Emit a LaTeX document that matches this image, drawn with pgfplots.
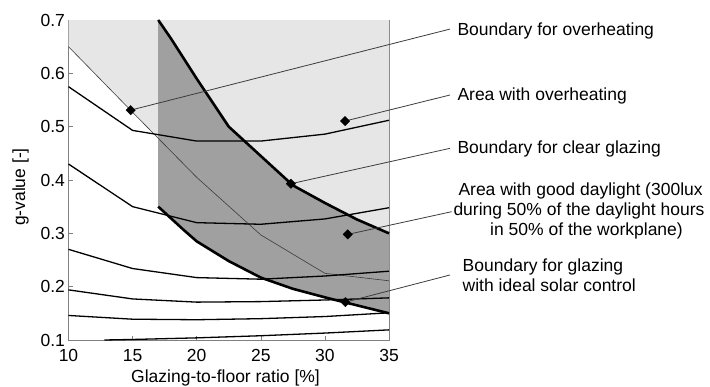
\documentclass[border=0pt]{standalone}
\usepackage{fontspec}
\setmainfont{Liberation Sans}
\usepackage{pgfplots}
\pgfplotsset{compat=1.18}
\definecolor{lightfill}{RGB}{230,230,230}
\definecolor{darkfill}{RGB}{160,160,160}
\definecolor{axgray}{RGB}{128,128,128}
\definecolor{annot}{RGB}{60,60,60}
\begin{document}
\begin{tikzpicture}[font=\fontsize{17.5bp}{21bp}\selectfont]
\useasboundingbox (0,0) rectangle (710bp,387bp);
\begin{axis}[
  at={(68.5bp,47bp)}, anchor=south west,
  scale only axis, width=320.5bp, height=320bp,
  xmin=10, xmax=35, ymin=0.1, ymax=0.7,
  xtick={10,15,20,25,30,35},
  ytick={0.1,0.2,0.3,0.4,0.5,0.6,0.7},
  yticklabel style={/pgf/number format/.cd, fixed, fixed zerofill, precision=1},
  xticklabel style={yshift=-6bp},
  /pgf/number format/assume math mode=true,
  tick label style={font=\fontsize{17.5bp}{21bp}\selectfont},
  tick align=inside, major tick length=4bp,
  tick style={axgray, line width=0.6bp},
  axis line style={axgray, line width=0.8bp},
  clip=false,
  xlabel={Glazing-to-floor ratio [\%]},
  ylabel={g-value [-]},
  xlabel style={at={(axis description cs:0.49,-0.134)}, anchor=base},
  ylabel style={at={(axis description cs:-0.1357,0.478)}, anchor=base},
]
% area with overheating (above overheating boundary)
\addplot[draw=none, fill=lightfill] coordinates {
 (10,0.7) (10,0.65) (15,0.527) (20,0.405) (25,0.297) (30,0.225) (35,0.211) (35,0.7)} -- cycle;
% area with good daylight
\addplot[draw=none, fill=darkfill] coordinates {
 (17,0.35) (17,0.70) (18,0.665) (20,0.59) (22.5,0.5) (25,0.445) (27.5,0.39) (30,0.357) (32.5,0.326) (35,0.30)
 (35,0.15) (30,0.18) (27.5,0.196) (25,0.217) (22.5,0.248) (20,0.285) (19,0.306) (17,0.35)} -- cycle;
% boundary for overheating (thin)
\addplot[color=annot, line width=0.6bp] coordinates {
 (10,0.65) (15,0.527) (20,0.405) (25,0.297) (30,0.225) (35,0.211)};
% contour lines
\addplot[black, line width=1.3bp] coordinates {(10,0.575) (15,0.493) (20,0.473) (25,0.473) (30,0.486) (32.5,0.499) (35,0.512)};
\addplot[black, line width=1.3bp] coordinates {(10,0.43) (15,0.35) (20,0.32) (25,0.317) (30,0.327) (35,0.348)};
\addplot[black, line width=1.3bp] coordinates {(10,0.270) (15,0.234) (20,0.217) (25,0.214) (30,0.220) (35,0.229)};
\addplot[black, line width=1.3bp] coordinates {(10,0.194) (15,0.177) (20,0.171) (25,0.172) (30,0.175) (35,0.179)};
\addplot[black, line width=1.3bp] coordinates {(10,0.146) (15,0.139) (20,0.138) (25,0.140) (30,0.144) (35,0.151)};
\addplot[black, line width=1.3bp] coordinates {(12.8,0.1) (15,0.101) (20,0.104) (25,0.108) (30,0.113) (35,0.119)};
% boundary for clear glazing (thick)
\addplot[black, line width=2.6bp] coordinates {(17,0.70) (18,0.665) (20,0.59) (22.5,0.5) (25,0.445) (27.5,0.39) (30,0.357) (32.5,0.326) (35,0.30)};
% boundary for ideal solar control (thick)
\addplot[black, line width=2.6bp] coordinates {(17,0.35) (19,0.306) (20,0.285) (22.5,0.248) (25,0.217) (27.5,0.196) (30,0.18) (35,0.15)};
% annotation leader lines
\addplot[annot, line width=0.8bp] coordinates {(14.85,0.531) (39.76,0.683)};
\addplot[annot, line width=0.8bp] coordinates {(31.57,0.5105) (39.76,0.5594)};
\addplot[annot, line width=0.8bp] coordinates {(27.35,0.393) (39.76,0.4594)};
\addplot[annot, line width=0.8bp] coordinates {(31.78,0.298) (39.89,0.3406)};
\addplot[annot, line width=0.8bp] coordinates {(31.6,0.171) (39.76,0.2219)};
% markers
\addplot[only marks, mark=square*, mark size=3.3bp, mark options={black, rotate=45}] coordinates {
 (14.85,0.531) (31.57,0.5105) (27.35,0.393) (31.78,0.298) (31.6,0.171)};
\end{axis}
\node[anchor=base west, inner sep=0pt] at (457.3bp,351bp) {Boundary for overheating};
\node[anchor=base west, inner sep=0pt] at (457.3bp,286.3bp) {Area with overheating};
\node[anchor=base west, inner sep=0pt] at (457.3bp,233bp) {Boundary for clear glazing};
\node[anchor=base west, inner sep=0pt] at (458.3bp,191bp) {Area with good daylight (300lux};
\node[anchor=base west, inner sep=0pt] at (453.3bp,171bp) {during 50\% of the daylight hours};
\node[anchor=base west, inner sep=0pt] at (490bp,151.5bp) {in 50\% of the workplane)};
\node[anchor=base west, inner sep=0pt] at (462.5bp,115.3bp) {Boundary for glazing};
\node[anchor=base west, inner sep=0pt] at (462.5bp,95.3bp) {with ideal solar control};
\end{tikzpicture}
\end{document}
